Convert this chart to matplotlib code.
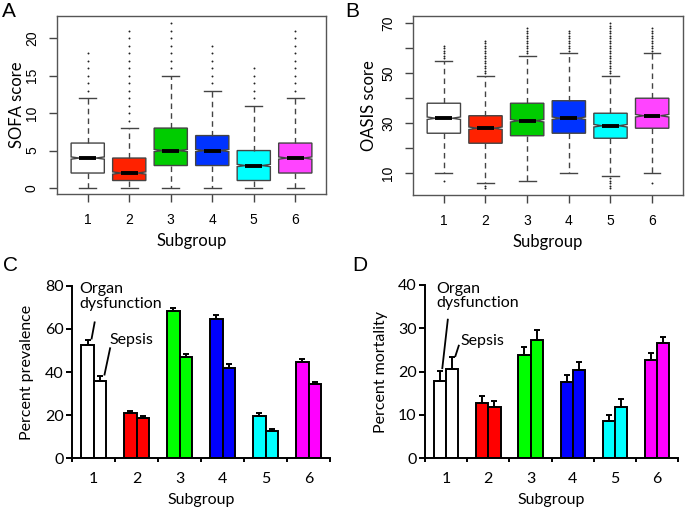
import numpy as np
import matplotlib
matplotlib.use('Agg')
import matplotlib.pyplot as plt

# ---- data ----
groups = [1, 2, 3, 4, 5, 6]
box_colors = ['#FFFFFF', '#FF2200', '#00CC00', '#0033FF', '#00FFFF', '#FF44FF']
bar_colors = ['#FFFFFF', '#FF0000', '#00FF00', '#0000FF', '#00FFFF', '#FF00FF']

# SOFA score boxes (panel A)
sofa_whislo = [0, 0, 0, 0, 0, 0]
sofa_q1 = [2, 1, 3, 3, 1, 2]
sofa_med = [4, 2, 5, 5, 3, 4]
sofa_q3 = [6, 4, 8, 7, 5, 6]
sofa_whishi = [12, 8, 15, 13, 11, 12]
sofa_fliers = [
    [13, 14, 15, 16, 17, 18],
    [9, 10, 11, 12, 13, 14, 15, 16, 17, 18, 19, 20, 21],
    [16, 17, 18, 19, 20, 21, 22],
    [14, 15, 16, 17, 18, 19],
    [12, 13, 14, 15, 16],
    [13, 14, 15, 16, 17, 18, 19, 20, 21],
]
sofa_notch = 0.15

# OASIS score boxes (panel B)
oasis_whislo = [10, 6, 7, 10, 9, 10]
oasis_q1 = [26, 22, 25, 26, 24, 28]
oasis_med = [32, 28, 31, 32, 29, 33]
oasis_q3 = [38, 33, 38, 39, 34, 40]
oasis_whishi = [55, 49, 57, 58, 49, 58]
oasis_fliers = [
    [7, 56, 57, 58, 59, 60, 61],
    [4, 5, 50, 51, 52, 53, 54, 55, 56, 57, 58, 59, 60, 61, 62, 63],
    [58, 59, 60, 61, 62, 63, 64, 65, 66, 67, 68],
    [59, 60, 61, 62, 63, 64, 65, 66, 67],
    [4, 5, 6, 7, 8, 50, 51, 52, 53, 54, 55, 56, 57, 58, 59, 60, 61, 62, 63,
     64, 65, 66, 67, 68, 69, 70],
    [6, 59, 60, 61, 62, 63, 64, 65, 66, 67, 68],
]
oasis_notch = 0.5

# Percent prevalence (panel C)
prev_organ = [52.7, 20.9, 68.3, 64.7, 19.8, 44.8]
prev_organ_err = [2.0, 0.9, 1.4, 1.5, 1.0, 1.0]
prev_sepsis = [36.0, 18.6, 47.0, 42.0, 12.6, 34.3]
prev_sepsis_err = [2.1, 0.8, 1.5, 1.8, 0.8, 1.0]

# Percent mortality (panel D)
mort_organ = [17.9, 12.7, 23.9, 17.5, 8.5, 22.8]
mort_organ_err = [2.3, 1.7, 1.8, 1.7, 1.5, 1.4]
mort_sepsis = [20.6, 11.8, 27.4, 20.3, 11.9, 26.5]
mort_sepsis_err = [2.7, 1.5, 2.1, 2.0, 1.7, 1.6]

W, H = 685, 507
fig = plt.figure(figsize=(W / 100, H / 100), dpi=100)


def px_axes(x0, y0, x1, y1):
    return fig.add_axes([x0 / W, 1 - y1 / H, (x1 - x0) / W, (y1 - y0) / H])


label_font = 'Lato'
tick_font = 'Liberation Sans'


def box_panel(ax, whislo, q1, med, q3, whishi, fliers, notch, ylim, yticks, ylabels,
              ylabel, ylabelpad):
    stats = []
    for i in range(len(groups)):
        stats.append(dict(whislo=whislo[i], q1=q1[i], med=med[i], q3=q3[i],
                          whishi=whishi[i], fliers=fliers[i],
                          cilo=med[i] - notch, cihi=med[i] + notch))
    edge = '#444444'
    res = ax.bxp(stats, positions=groups, widths=0.8, capwidths=0.4,
                 shownotches=True, patch_artist=True,
                 boxprops=dict(edgecolor=edge, linewidth=1.0),
                 medianprops=dict(color='black', linewidth=2.8, solid_capstyle='butt'),
                 whiskerprops=dict(color=edge, linewidth=1.0, linestyle=(0, (4, 3))),
                 capprops=dict(color=edge, linewidth=1.0),
                 flierprops=dict(marker='o', markersize=1.4, markerfacecolor='#222222',
                                 markeredgecolor='none'))
    for patch, c in zip(res['boxes'], box_colors):
        patch.set_facecolor(c)
    ax.set_xlim(0.26, 6.74)
    ax.set_ylim(*ylim)
    ax.set_xticks(groups)
    ax.set_xticklabels([str(g) for g in groups], fontfamily=tick_font, fontsize=10)
    ax.set_yticks(yticks)
    ax.set_yticklabels(ylabels, fontfamily=tick_font, fontsize=10, rotation=90, va='center')
    for s in ax.spines.values():
        s.set_color('#555555')
        s.set_linewidth(1.0)
    ax.tick_params(axis='both', direction='out', length=6, width=1.0, color='#444444')
    ax.tick_params(axis='x', pad=8)
    ax.tick_params(axis='y', pad=7)
    ax.set_xlabel('Subgroup', fontfamily=label_font, fontsize=12, labelpad=4)
    ax.set_ylabel(ylabel, fontfamily=label_font, fontsize=12, labelpad=ylabelpad)


axA = px_axes(57, 15.7, 326, 194)
box_panel(axA, sofa_whislo, sofa_q1, sofa_med, sofa_q3, sofa_whishi, sofa_fliers,
          sofa_notch, (-0.8, 23), [0, 5, 10, 15, 20], ['0', '5', '10', '15', '20'],
          'SOFA score', 0)

axB = px_axes(413, 15.7, 683, 195)
box_panel(axB, oasis_whislo, oasis_q1, oasis_med, oasis_q3, oasis_whishi, oasis_fliers,
          oasis_notch, (1.3, 73), [10, 20, 30, 40, 50, 60, 70],
          ['10', '', '30', '', '50', '', '70'], 'OASIS score', 3)


def bar_panel(ax, organ, organ_err, sepsis, sepsis_err, ymax, yticks, ylabel, ylabelpad):
    x = np.array(groups, dtype=float)
    bw = 0.29
    zeros = np.zeros(len(groups))
    ax.bar(x - bw / 2, organ, width=bw, color=bar_colors, edgecolor='black', linewidth=1.4, zorder=2)
    ax.bar(x + bw / 2, sepsis, width=bw, color=bar_colors, edgecolor='black', linewidth=1.4, zorder=2)
    ax.errorbar(x - bw / 2, organ, yerr=[zeros, organ_err], fmt='none', ecolor='black',
                elinewidth=1.4, capsize=2.5, capthick=1.4, zorder=3)
    ax.errorbar(x + bw / 2, sepsis, yerr=[zeros, sepsis_err], fmt='none', ecolor='black',
                elinewidth=1.4, capsize=2.5, capthick=1.4, zorder=3)
    ax.set_xlim(0.5, 6.5)
    ax.set_ylim(0, ymax)
    ax.spines['top'].set_visible(False)
    ax.spines['right'].set_visible(False)
    for s in ('left', 'bottom'):
        ax.spines[s].set_linewidth(1.4)
    ax.set_xticks(groups)
    ax.set_xticklabels([str(g) for g in groups], fontfamily=label_font, fontsize=11.5)
    ax.set_xticks(np.arange(0.5, 6.6, 1.0), minor=True)
    ax.tick_params(axis='x', which='major', length=0, pad=10)
    ax.tick_params(axis='x', which='minor', length=3, width=1.4, direction='out')
    ax.set_yticks(yticks)
    ax.set_yticklabels([str(t) for t in yticks], fontfamily=label_font, fontsize=11.5)
    ax.tick_params(axis='y', length=4, width=1.4, direction='out', pad=2)
    ax.set_xlabel('Subgroup', fontfamily=label_font, fontsize=11.5, labelpad=5)
    ax.set_ylabel(ylabel, fontfamily=label_font, fontsize=11.5, labelpad=ylabelpad)


axC = px_axes(72.3, 285.7, 330, 458.3)
bar_panel(axC, prev_organ, prev_organ_err, prev_sepsis, prev_sepsis_err, 80,
          [0, 20, 40, 60, 80], 'Percent prevalence', 8)
axC.text(0.66, 81.5, 'Organ\ndysfunction', fontfamily=label_font, fontsize=11.5,
         ha='left', va='top', linespacing=1.05, clip_on=False)
axC.text(1.36, 55, 'Sepsis', fontfamily=label_font, fontsize=11.5, ha='left', va='center')
axC.plot([1.02, 0.95], [63.0, 55.5], color='black', linewidth=1.3)
axC.plot([1.38, 1.25], [51.0, 38.8], color='black', linewidth=1.3)

axD = px_axes(425, 285, 678.3, 458.3)
bar_panel(axD, mort_organ, mort_organ_err, mort_sepsis, mort_sepsis_err, 40,
          [0, 10, 20, 30, 40], 'Percent mortality', 7)
axD.text(0.76, 40.8, 'Organ\ndysfunction', fontfamily=label_font, fontsize=11.5,
         ha='left', va='top', linespacing=1.05, clip_on=False)
axD.text(1.33, 27.0, 'Sepsis', fontfamily=label_font, fontsize=11.5, ha='left', va='center')
axD.plot([1.04, 0.91], [32.0, 20.8], color='black', linewidth=1.3)
axD.plot([1.30, 1.22], [26.0, 23.6], color='black', linewidth=1.3)

# panel letters
for lx, ly, letter in [(2, 2, 'A'), (345, 2, 'B'), (3, 256, 'C'), (352, 256, 'D')]:
    fig.text(lx / W, 1 - ly / H, letter, fontfamily=tick_font, fontsize=15,
             ha='left', va='top')

fig.savefig('out.png', dpi=100)
